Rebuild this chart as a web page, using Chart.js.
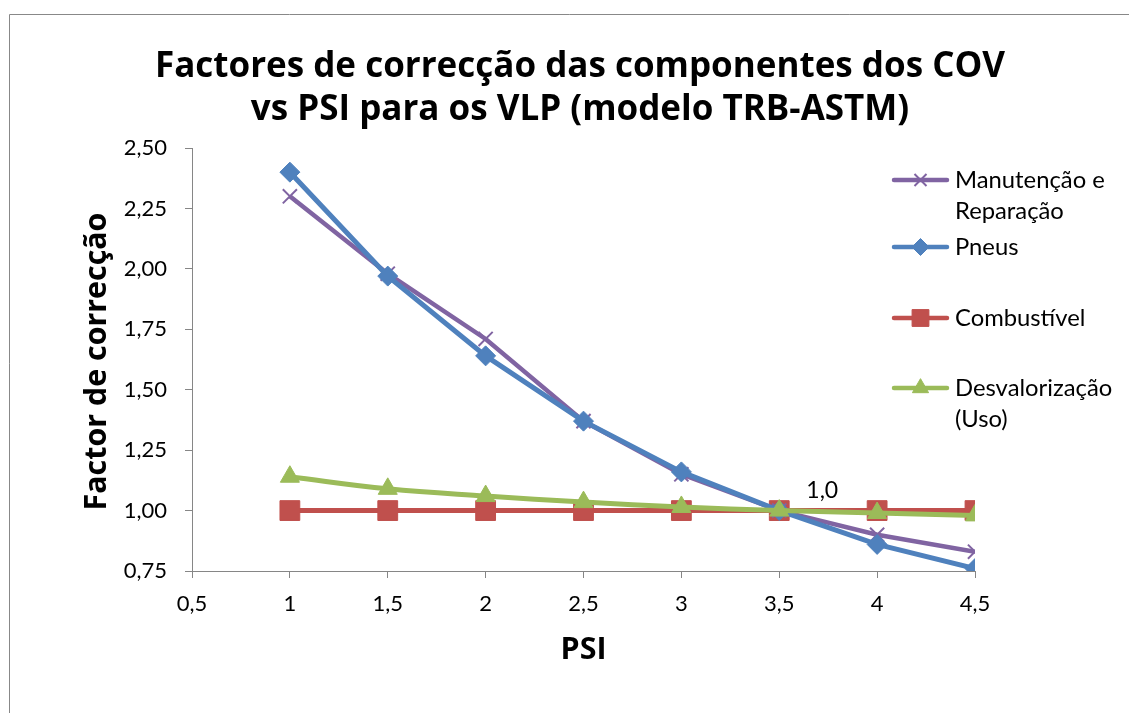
<!DOCTYPE html>
<html><head><meta charset="utf-8">
<script src="https://cdn.jsdelivr.net/npm/chart.js@4/dist/chart.umd.min.js"></script>
<style>html,body{margin:0;padding:0;background:#fff;overflow:hidden}canvas{display:block}</style>
</head><body>
<canvas id="c" width="1129" height="713"></canvas>
<script>
const psi = [1, 1.5, 2, 2.5, 3, 3.5, 4, 4.5];
const manutencao = [2.30, 1.98, 1.71, 1.37, 1.15, 1.00, 0.90, 0.83];
const pneus = [2.40, 1.97, 1.64, 1.37, 1.16, 1.00, 0.86, 0.76];
const combustivel = [1.00, 1.00, 1.00, 1.00, 1.00, 1.00, 1.00, 1.00];
const desvalorizacao = [1.14, 1.09, 1.06, 1.035, 1.015, 1.00, 0.99, 0.98];
const seriesNames = [['Manutenção e', 'Reparação'], ['Pneus'], ['Combustível'], ['Desvalorização', '(Uso)']];
const titleLines = ['Factores de correcção das componentes dos COV', 'vs PSI para os VLP (modelo TRB-ASTM)'];
const xTitle = 'PSI';
const yTitle = 'Factor de correcção';
const annotation = {x: 3.5, y: 1.0, text: '1,0'};

const FONT = 'Lato, "Open Sans", sans-serif';
const BFONT = '"Open Sans", Lato, sans-serif';
const toPts = arr => psi.map((x, i) => ({x, y: arr[i]}));

const datasets = [
  {label: 'Manutenção e Reparação', data: toPts(manutencao), borderColor: '#8064A2', backgroundColor: '#8064A2',
   pointStyle: 'crossRot', pointRadius: 10, pointBorderWidth: 2, borderWidth: 4.5, order: 3},
  {label: 'Pneus', data: toPts(pneus), borderColor: '#4F81BD', backgroundColor: '#4F81BD',
   pointStyle: 'rectRot', pointRadius: 10, pointBorderWidth: 1, borderWidth: 5, order: 2},
  {label: 'Combustível', data: toPts(combustivel), borderColor: '#C0504D', backgroundColor: '#C0504D',
   pointStyle: 'rect', pointRadius: 14, pointBorderWidth: 1, borderWidth: 5, order: 4},
  {label: 'Desvalorização (Uso)', data: toPts(desvalorizacao), borderColor: '#9BBB59', backgroundColor: '#9BBB59',
   pointStyle: 'triangle', pointRadius: 11, pointBorderWidth: 1, borderWidth: 5, tension: 0.4, order: 1}
];

function fitFont(ctx, text, weight, family, targetW, maxH) {
  let size = 40;
  ctx.font = weight + ' ' + size + 'px ' + family;
  const w = ctx.measureText(text).width;
  size = Math.min(size * targetW / w, maxH);
  return weight + ' ' + size.toFixed(1) + 'px ' + family;
}

const legendY = [180, 247, 318, 388];

const decor = {
  id: 'decor',
  afterDraw(chart) {
    const ctx = chart.ctx;
    const ca = chart.chartArea;
    ctx.save();
    // outer border
    ctx.strokeStyle = '#888888'; ctx.lineWidth = 1;
    ctx.beginPath(); ctx.moveTo(9.5, 713); ctx.lineTo(9.5, 14.5); ctx.lineTo(1129, 14.5); ctx.stroke();
    // title
    ctx.fillStyle = '#000';
    ctx.font = fitFont(ctx, titleLines[0], 'bold', BFONT, 850, 40);
    ctx.textAlign = 'center'; ctx.textBaseline = 'alphabetic';
    ctx.fillText(titleLines[0], 580, 77);
    ctx.fillText(titleLines[1], 580, 120);
    // axis titles
    ctx.font = fitFont(ctx, yTitle, 'bold', BFONT, 298, 40);
    ctx.fillText(xTitle, (ca.left + ca.right) / 2, 659);
    ctx.save();
    ctx.translate(106, (ca.top + ca.bottom) / 2 + 2);
    ctx.rotate(-Math.PI / 2);
    ctx.fillText(yTitle, 0, 0);
    ctx.restore();
    // annotation
    const xs = chart.scales.x, ys = chart.scales.y;
    ctx.font = '23px ' + FONT;
    ctx.textBaseline = 'middle';
    ctx.fillText(annotation.text, xs.getPixelForValue(annotation.x) + 43, ys.getPixelForValue(annotation.y) - 20);
    // legend
    const legFont = fitFont(ctx, seriesNames[0][0], '', FONT, 150, 30);
    datasets.forEach((ds, i) => {
      const y = legendY[i];
      ctx.save();
      ctx.strokeStyle = ds.borderColor; ctx.lineWidth = 4.5; ctx.lineCap = 'round';
      ctx.beginPath(); ctx.moveTo(894, y); ctx.lineTo(947, y); ctx.stroke();
      ctx.lineCap = 'butt';
      ctx.fillStyle = ds.backgroundColor; ctx.strokeStyle = ds.borderColor; ctx.lineWidth = ds.pointBorderWidth;
      Chart.helpers.drawPoint(ctx, {pointStyle: ds.pointStyle, radius: ds.pointRadius * 0.85, borderWidth: ds.pointBorderWidth, rotation: 0}, 920.5, y);
      ctx.restore();
      ctx.fillStyle = '#000'; ctx.font = legFont; ctx.textBaseline = 'middle'; ctx.textAlign = 'left';
      seriesNames[i].forEach((t, k) => ctx.fillText(t, 955, y + k * 31));
    });
    ctx.restore();
  }
};

new Chart(document.getElementById('c'), {
  type: 'line',
  data: {datasets},
  options: {
    responsive: false, animation: false,
    layout: {padding: {top: 148, left: 0, right: 154, bottom: 0}},
    plugins: {legend: {display: false}, title: {display: false}, tooltip: {enabled: false}},
    scales: {
      x: {type: 'linear', min: 0.5, max: 4.5,
        afterFit: s => { s.height = 142; },
        ticks: {stepSize: 0.5, color: '#000', font: {family: FONT, size: 22}, padding: 13,
          callback: v => String(v).replace('.', ',')},
        grid: {drawOnChartArea: false, drawTicks: true, tickLength: 7, color: '#868686'},
        border: {color: '#868686', width: 1}},
      y: {type: 'linear', min: 0.75, max: 2.5,
        afterFit: s => { s.width = 192; },
        ticks: {stepSize: 0.25, color: '#000', font: {family: FONT, size: 22}, padding: 18,
          callback: v => v.toFixed(2).replace('.', ',')},
        grid: {drawOnChartArea: false, drawTicks: true, tickLength: 7, color: '#868686'},
        border: {color: '#868686', width: 1}}
    }
  },
  plugins: [decor]
});
</script>
</body></html>
